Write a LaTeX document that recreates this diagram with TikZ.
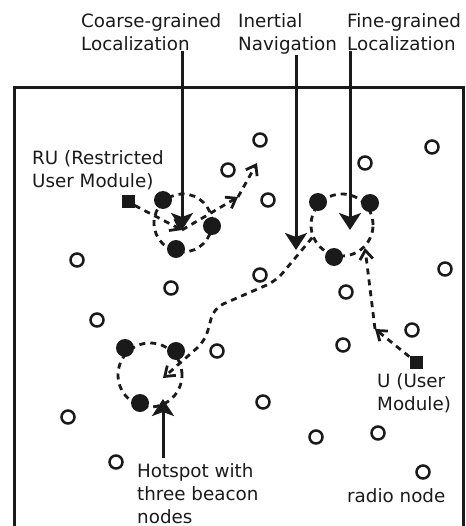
\documentclass[tikz,border=0pt]{standalone}
\usepackage{fontspec}
\setmainfont{DejaVu Sans}
\usepackage{xcolor}
\usetikzlibrary{arrows.meta,bending,positioning}
\definecolor{ink}{HTML}{1A1A1A}

\begin{document}
\begin{tikzpicture}[x=1pt, y=-1pt,
    radio/.style={circle, draw=ink, line width=2.5pt, minimum size=13pt, inner sep=0pt},
    beacon/.style={circle, fill=ink, minimum size=18pt, inner sep=0pt},
    module/.style={rectangle, fill=ink, minimum size=13pt, inner sep=0pt},
    hotloop/.style={circle, draw=ink, line width=2.8pt, dash pattern=on 6pt off 5pt, inner sep=0pt},
    lbl/.style={anchor=base west, align=left, inner sep=0pt, text=ink, font=\fontsize{18.3}{23}\selectfont},
    pointer/.style={draw=ink, line width=3pt, -{Stealth[length=17pt, width=22pt, inset=4pt]}},
    trail/.style={draw=ink, line width=2.8pt, dash pattern=on 6pt off 5pt, -{Straight Barb[length=9pt, width=13pt]}}]
    \useasboundingbox (0,0) rectangle (465,526);
    \draw[draw=ink, line width=3pt] (14,526) -- (14,88) -- (463,88) -- (463,526);

    \node[lbl] (coarse) at (81,51) {Coarse-grained\\Localization};
    \node[lbl] (inertial) at (238,51) {Inertial\\Navigation};
    \node[lbl] (fine) at (347,51) {Fine-grained\\Localization};
    \node[lbl] (ru) at (32,188) {RU (Restricted\\User Module)};
    \node[lbl] (u) at (377,410) {U (User\\Module)};
    \node[lbl] (hotspot) at (137,523) {Hotspot with\\three beacon\\nodes};
    \node[lbl] (radio) at (347,502) {radio node};

    \foreach \x/\y [count=\i] in {260/140, 432/147, 365/163, 228/170, 268/200, 77/260, 260/275, 445/269,
        171/288, 346/292, 97/320, 412/330, 343/345, 217/351, 263/402, 68/417, 316/437, 378/433, 116/462, 423/472}
        \node[radio] (r\i) at (\x,\y) {};

    \node[hotloop, minimum size=58pt] (al) at (183,223) {};
    \node[hotloop, minimum size=62pt] (bl) at (342,225) {};
    \node[hotloop, minimum size=64pt] (cl) at (150,375) {};

    \node[beacon] (a1) at (163,200) {};
    \node[beacon] (a2) at (212,226) {};
    \node[beacon] (a3) at (176,249) {};
    \node[beacon] (b1) at (318,202) {};
    \node[beacon] (b2) at (370,203) {};
    \node[beacon] (b3) at (334,257) {};
    \node[beacon] (c1) at (125,348) {};
    \node[beacon] (c2) at (176,351) {};
    \node[beacon] (c3) at (140,403) {};

    \node[module] (rusq) at (128,202) {};
    \node[module] (usq) at (416,362) {};

    \coordinate (ct) at (182,230);
    \coordinate (it) at (296,250);
    \coordinate (ft) at (350,230);
    \coordinate (ht) at (163,399);
    \coordinate (ru1) at (238,197);
    \coordinate (ru2) at (257,163);
    \coordinate (nt) at (163,378);
    \coordinate (u1) at (375,329);
    \coordinate (u2) at (365,248);

    \draw[pointer] (coarse.south -| ct) -- (ct);
    \draw[pointer] (inertial.south -| it) -- (it);
    \draw[pointer] (fine.south -| ft) -- (ft);
    \draw[pointer, shorten <=5pt] (hotspot.north -| ht) -- (ht);

    \draw[trail] (rusq) -- (ct);
    \draw[trail] (ct) -- (ru1);
    \draw[trail] (ru1) -- (ru2);
    \draw[trail, rounded corners=10pt] (bl.203) -- (276,281) -- (214,308) -- (205,341) -- (nt);
    \draw[trail] (usq) -- (u1);
    \draw[trail] (u1) -- (u2);

\end{tikzpicture}
\end{document}
